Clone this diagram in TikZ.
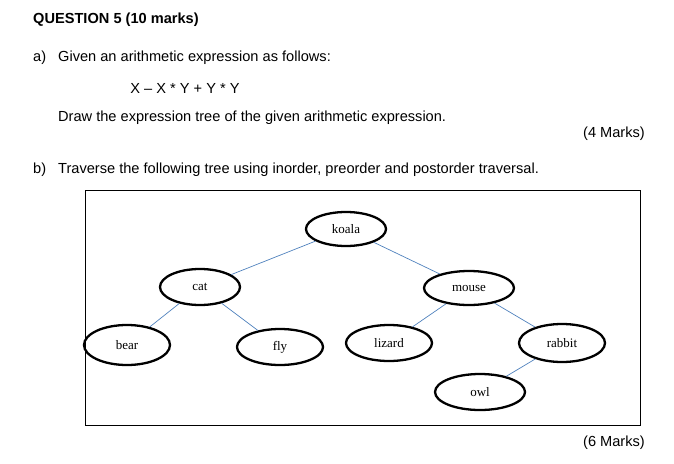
\documentclass[tikz,border=0pt]{standalone}
\usepackage{fontspec}
\usetikzlibrary{shapes.geometric}
\setmainfont{Liberation Sans}
\newfontfamily\serifnode{Liberation Serif}
\begin{document}
\begin{tikzpicture}[x=1pt,y=-1pt,
  txt/.style={anchor=west,inner sep=0pt,font=\fontsize{14.6}{17}\selectfont},
  leaf/.style={draw,ellipse,line width=2.3pt,minimum width=86pt,minimum height=36pt,inner sep=0pt,font=\serifnode\fontsize{13}{15}\selectfont},
  link/.style={draw={rgb,255:red,79;green,129;blue,189},line width=0.7pt}]
\useasboundingbox (0,0) rectangle (674,463);
\node[txt,font=\bfseries\fontsize{14.6}{17}\selectfont] (q) at (33,20) {QUESTION 5 (10 marks)};
\node[txt] (a) at (33,58) {a)};
\node[txt] (a1) at (58,58) {Given an arithmetic expression as follows:};
\node[txt,anchor=center] (ex) at (185,88) {X -- X * Y + Y * Y};
\node[txt] (a2) at (58,118) {Draw the expression tree of the given arithmetic expression.};
\node[txt,anchor=east] (m4) at (645,134) {(4 Marks)};
\node[txt] (b) at (33,170) {b)};
\node[txt] (b1) at (58,170) {Traverse the following tree using inorder, preorder and postorder traversal.};
\node[draw,line width=0.6pt,minimum width=555pt,minimum height=235pt,inner sep=0pt] (box) at (362.5,307.5) {};
\node[txt,anchor=east] (m6) at (645,443) {(6 Marks)};
\node[leaf,minimum width=80pt,minimum height=34pt] (koala) at (346,229) {koala};
\node[leaf,minimum width=80pt] (cat) at (200,287) {cat};
\node[leaf,minimum width=90pt,minimum height=34pt] (mouse) at (469,288) {mouse};
\node[leaf,minimum height=40pt] (bear) at (127,345) {bear};
\node[leaf] (fly) at (280,347) {fly};
\node[leaf] (lizard) at (389,343) {lizard};
\node[leaf,minimum height=38pt] (rabbit) at (562,343) {rabbit};
\node[leaf,minimum width=90pt] (owl) at (480,392) {owl};
\draw[link] (koala) -- (cat);
\draw[link] (koala) -- (mouse);
\draw[link] (cat) -- (bear);
\draw[link] (cat) -- (fly);
\draw[link] (mouse) -- (lizard);
\draw[link] (mouse) -- (rabbit);
\draw[link] (rabbit) -- (owl);
\end{tikzpicture}
\end{document}
